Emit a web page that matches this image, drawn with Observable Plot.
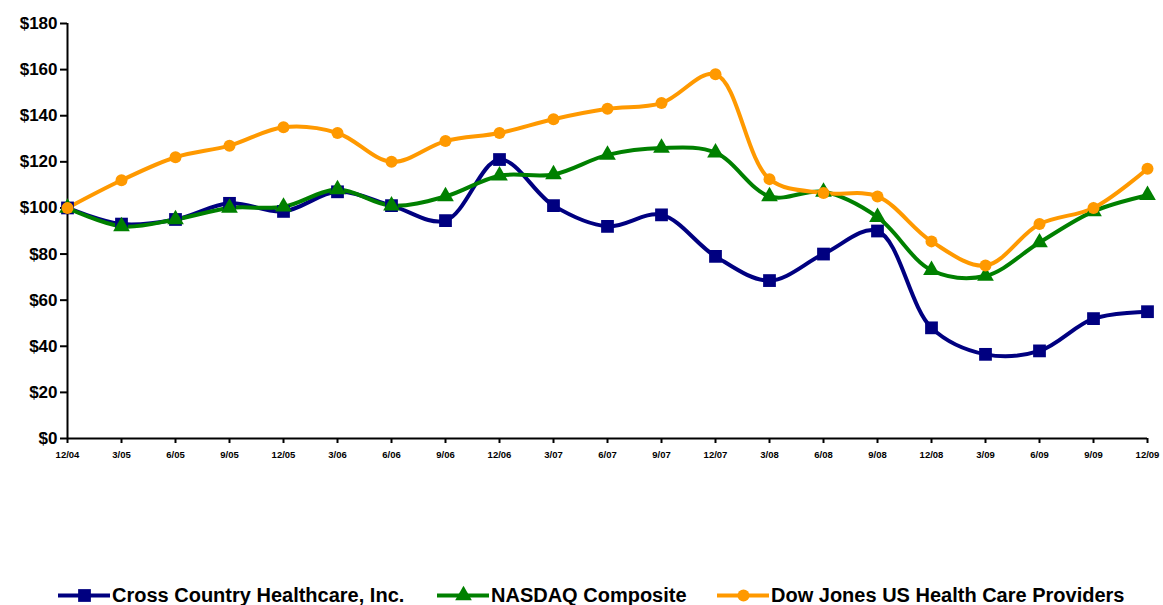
<!DOCTYPE html>
<html>
<head>
<meta charset="utf-8">
<script src="https://cdn.jsdelivr.net/npm/d3@7"></script>
<script src="https://cdn.jsdelivr.net/npm/@observablehq/plot@0.6"></script>
<style>
  html, body { margin: 0; padding: 0; background: #fff; overflow: hidden; }
  #chart { position: relative; width: 1163px; height: 605px; font-family: "Liberation Sans", Arial, sans-serif; }
  #legend { position: absolute; left: 0; top: 583px; width: 1163px; height: 24px; }
  .item { position: absolute; top: 0; height: 24px; display: flex; align-items: center; font-weight: bold; font-size: 20px; color: #000; white-space: nowrap; }
  .item svg { margin-right: 2px; }
</style>
</head>
<body>
<div id="chart"><div id="legend"></div></div>
<script>
const periods = ["12/04","3/05","6/05","9/05","12/05","3/06","6/06","9/06","12/06","3/07","6/07","9/07","12/07","3/08","6/08","9/08","12/08","3/09","6/09","9/09","12/09"];
const crossCountry = [100, 93, 95, 102, 98.5, 107, 101, 94.5, 121, 101, 92, 97, 79, 68.5, 80, 90, 48, 36.5, 38, 52, 55];
const nasdaq = [100, 92, 95, 100, 100.5, 108, 101, 105, 114, 114.5, 123, 126, 124, 105, 107, 96, 73, 70.5, 85, 98.5, 105.5];
const dowJones = [100, 112, 122, 127, 135, 132.5, 120, 129, 132.5, 138.5, 143, 145.5, 158, 112.5, 106.5, 105, 85.5, 75, 93, 100, 117];
const seriesNames = ["Cross Country Healthcare, Inc.", "NASDAQ Composite", "Dow Jones US Health Care Providers"];
const yTicks = [0, 20, 40, 60, 80, 100, 120, 140, 160, 180];

const colors = {"Cross Country Healthcare, Inc.": "#000080", "NASDAQ Composite": "#008000", "Dow Jones US Health Care Providers": "#FF9900"};
const symbols = {"Cross Country Healthcare, Inc.": "square", "NASDAQ Composite": "triangle", "Dow Jones US Health Care Providers": "circle"};
const radii = {"Cross Country Healthcare, Inc.": 7.2, "NASDAQ Composite": 6.2, "Dow Jones US Health Care Providers": 6};
const valuesBySeries = [crossCountry, nasdaq, dowJones];
const data = seriesNames.flatMap((s, i) => periods.map((p, j) => ({series: s, period: p, value: valuesBySeries[i][j]})));

const chart = Plot.plot({
  width: 1163,
  height: 475,
  marginLeft: 67,
  marginRight: 16,
  marginTop: 23,
  marginBottom: 37,
  style: {fontFamily: '"Liberation Sans", Arial, sans-serif', background: "#fff"},
  x: {type: "point", domain: periods, padding: 0},
  y: {domain: [0, 180]},
  marks: [
    Plot.axisY({ticks: yTicks, tickFormat: d => "$" + d, tickSize: 7, tickPadding: 3, fontSize: 17, fontWeight: "bold", strokeWidth: 2, label: null}),
    Plot.axisX({tickSize: 5, tickPadding: 8, fontSize: 9.5, fontWeight: "bold", strokeWidth: 2, label: null}),
    Plot.ruleX([periods[0]], {y1: 0, y2: 180, stroke: "#000", strokeWidth: 2}),
    Plot.ruleY([0], {stroke: "#000", strokeWidth: 2}),
    ...seriesNames.map(s => Plot.line(data.filter(d => d.series === s), {x: "period", y: "value", stroke: colors[s], strokeWidth: 4, curve: "catmull-rom"})),
    ...seriesNames.map(s => Plot.dot(data.filter(d => d.series === s), {x: "period", y: "value", fill: colors[s], stroke: "none", symbol: symbols[s], r: radii[s]}))
  ]
});
document.getElementById("chart").prepend(chart);

// legend
const legend = document.getElementById("legend");
const lefts = [58, 437, 717];
seriesNames.forEach((s, i) => {
  const item = document.createElement("div");
  item.className = "item";
  item.style.left = lefts[i] + "px";
  const sw = Plot.plot({
    width: 52, height: 24, margin: 0,
    x: {domain: [0, 1], axis: null}, y: {domain: [0, 1], axis: null},
    marks: [
      Plot.ruleY([0.5], {stroke: colors[s], strokeWidth: 4}),
      Plot.dot([{x: 0.5, y: 0.5}], {x: "x", y: "y", fill: colors[s], symbol: symbols[s], r: radii[s]})
    ]
  });
  item.appendChild(sw);
  const t = document.createElement("span");
  t.textContent = s;
  item.appendChild(t);
  legend.appendChild(item);
});
</script>
</body>
</html>
